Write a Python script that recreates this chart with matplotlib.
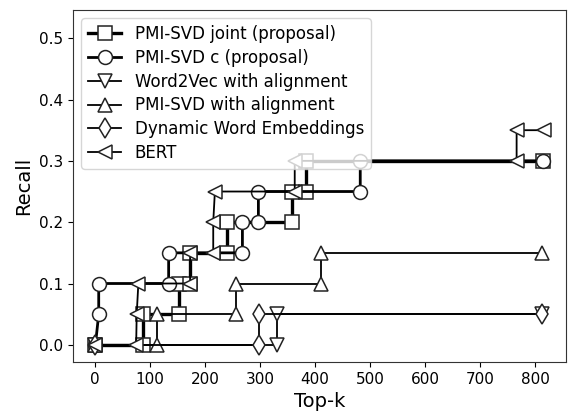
import matplotlib
matplotlib.use('Agg')
import matplotlib.pyplot as plt

# Top-k vs recall, step-like curves
joint_k = [1, 88, 88, 152, 152, 173, 173, 240, 240, 358, 358, 384, 384, 814]
joint_r = [0, 0, 0.05, 0.05, 0.1, 0.1, 0.15, 0.15, 0.2, 0.2, 0.25, 0.25, 0.3, 0.3]

c_k = [1, 7, 7, 134, 134, 268, 268, 297, 297, 482, 482, 814]
c_r = [0, 0.05, 0.1, 0.1, 0.15, 0.15, 0.2, 0.2, 0.25, 0.25, 0.3, 0.3]

w2v_k = [1, 330, 330, 812]
w2v_r = [0, 0, 0.05, 0.05]

pmi_align_k = [1, 112, 112, 257, 257, 411, 411, 813]
pmi_align_r = [0, 0, 0.05, 0.05, 0.1, 0.1, 0.15, 0.15]

dwe_k = [1, 299, 299, 812]
dwe_r = [0, 0, 0.05, 0.05]

bert_k = [1, 75, 76, 79, 173, 173, 215, 215, 218, 363, 363, 766, 766, 815]
bert_r = [0, 0, 0.05, 0.1, 0.1, 0.15, 0.15, 0.2, 0.25, 0.25, 0.3, 0.3, 0.35, 0.35]

series = [
    ('PMI-SVD joint (proposal)', joint_k, joint_r, 's', 2.4),
    ('PMI-SVD c (proposal)', c_k, c_r, 'o', 2.0),
    ('Word2Vec with alignment', w2v_k, w2v_r, 'v', 1.3),
    ('PMI-SVD with alignment', pmi_align_k, pmi_align_r, '^', 1.3),
    ('Dynamic Word Embeddings', dwe_k, dwe_r, 'd', 1.3),
    ('BERT', bert_k, bert_r, '<', 1.3),
]

fig = plt.figure(figsize=(5.69, 4.12), dpi=100)
ax = fig.add_axes([73 / 569, 50 / 412, 493 / 569, 352 / 412])

for label, k, r, marker, lw in series:
    ax.plot(k, r, color='black', lw=lw, marker=marker, markersize=10,
            markerfacecolor='white', markeredgecolor='#222222',
            markeredgewidth=1.1, label=label)

ax.set_ylim(-0.028, 0.546)
ax.set_xticks(range(0, 801, 100))
ax.set_yticks([0.0, 0.1, 0.2, 0.3, 0.4, 0.5])
ax.tick_params(labelsize=11)
ax.set_xlabel('Top-k', fontsize=14)
ax.set_ylabel('Recall', fontsize=14)
for s in ax.spines.values():
    s.set_color('#333333')

ax.legend(loc='upper left', fontsize=12, labelspacing=0.35)

fig.savefig('out.png', dpi=100)
